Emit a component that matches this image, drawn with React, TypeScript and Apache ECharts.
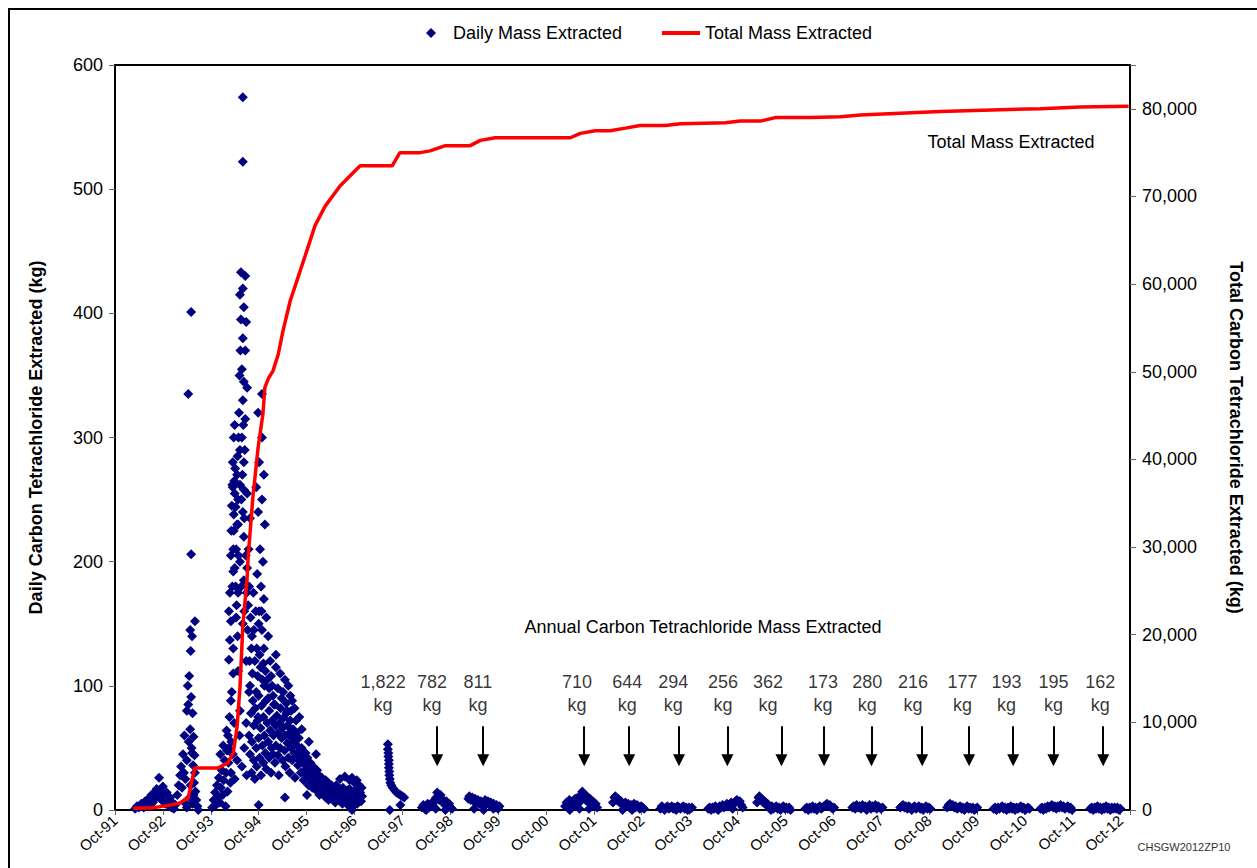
import { useEffect, useRef } from 'react';
import * as echarts from 'echarts';

// x values are years elapsed since October 1991
const xTickLabels = ['Oct-91','Oct-92','Oct-93','Oct-94','Oct-95','Oct-96','Oct-97','Oct-98','Oct-99','Oct-00','Oct-01','Oct-02','Oct-03','Oct-04','Oct-05','Oct-06','Oct-07','Oct-08','Oct-09','Oct-10','Oct-11','Oct-12'];

const totalMass: number[][] = [
  [0.38,200],[0.79,250],[1.09,500],[1.36,800],[1.53,1400],[1.61,3500],[1.67,4800],[2.15,4800],[2.36,5400],[2.47,6500],
  [2.55,9500],[2.61,14000],[2.67,21000],[2.76,26500],[2.78,28800],[2.88,35700],[2.99,41400],[3.09,45200],[3.13,48200],
  [3.2,49200],[3.3,50100],[3.41,52000],[3.51,54700],[3.66,58100],[3.8,60400],[3.97,63200],[4.18,66700],[4.39,68900],
  [4.7,71200],[5.01,72900],[5.12,73500],[5.79,73500],[5.95,75000],[6.37,75000],[6.58,75200],[6.9,75800],[7.42,75800],
  [7.63,76400],[7.94,76700],[9.51,76700],[9.72,77200],[10.03,77500],[10.34,77500],[10.66,77800],[10.97,78100],[11.49,78100],
  [11.81,78300],[12.75,78400],[13.06,78600],[13.48,78600],[13.79,79000],[14.52,79000],[15.15,79100],[15.57,79300],
  [16.4,79500],[17.24,79700],[18.49,79900],[19.33,80000],[20.16,80200],[21.17,80300]
];

const daily1993: number[][] = [
  [0.42,1],[0.46,3],[0.5,2],[0.55,5],[0.6,2],[0.63,7],[0.67,4],[0.7,9],[0.73,3],[0.76,12],[0.79,6],[0.82,14],[0.84,9],
  [0.87,17],[0.9,11],[0.92,26],[0.94,15],[0.97,8],[1.0,19],[1.02,12],[1.05,5],[1.08,14],[1.1,7],[1.13,3],[1.15,10],
  [1.18,2],[1.2,6],[1.23,1],[1.26,4],[1.3,12],[1.33,20],[1.36,28],[1.38,35],[1.4,18],[1.42,45],[1.44,30],[1.45,60],
  [1.47,25],[1.53,335],[1.5,40],[1.5,80],[1.52,100],[1.53,85],[1.59,401],[1.54,55],[1.55,108],[1.57,145],[1.59,206],
  [1.61,140],[1.57,65],[1.58,128],[1.59,91],[1.6,50],[1.67,152],[1.61,46],[1.62,78],[1.63,36],[1.64,59],[1.65,22],
  [1.66,44],[1.67,30],[1.68,15],[1.7,8],[1.72,3],[1.74,0],[1.56,10],[1.62,5],[1.5,2],[1.45,6],[1.58,20],[1.64,12]
];

const daily1994: number[][] = [
  [2.03,2],[2.06,8],[2.09,14],[2.11,4],[2.13,20],[2.15,10],[2.17,26],[2.19,6],[2.21,18],[2.23,32],[2.25,12],[2.27,24],
  [2.29,40],[2.31,3],[2.32,30],[2.34,48],[2.35,15],[2.36,60],[2.37,38],[2.38,121],[2.39,75],[2.4,137],[2.41,22],[2.42,152],
  [2.43,55],[2.44,95],[2.45,180],[2.46,260],[2.47,192],[2.47,110],[2.48,238],[2.49,70],
  [2.2,45],[2.26,52],[2.33,64],[2.38,50],[2.42,30],[2.46,45],[2.5,25],[2.55,40],[2.6,60],[2.65,35],[2.7,50],[2.75,28],
  [2.67,574],[2.67,522],[2.63,433],[2.72,430],[2.67,420],[2.61,415],[2.69,405],[2.63,395],[2.74,393],[2.67,380],[2.72,370],
  [2.65,355],[2.69,345],[2.76,340],[2.67,330],[2.72,315],[2.65,300],[2.61,290],[2.69,280],[2.49,265],[2.61,262],[2.69,258],
  [2.76,255],[2.57,250],[2.67,240],[2.82,235],[2.57,230],[2.69,220],[2.47,210],[2.61,200],[2.76,195],[2.69,185],[2.57,175],
  [2.78,165],[2.53,155],[2.67,150],[2.86,140],[2.47,130],[2.74,120],[2.57,112],[2.82,100],[2.95,95],[2.42,88],[2.61,80],
  [2.99,75],[2.74,70],[2.45,262],[2.5,255],[2.52,244],[2.48,225],[2.53,210],[2.5,195],[2.55,270],[2.58,300],[2.56,285],
  [2.38,160],[2.4,175],[2.42,205],[2.43,225],[2.44,245],[2.46,280],[2.48,300],[2.5,310],[2.51,275],[2.52,180],[2.54,165],
  [2.55,230],[2.56,140],[2.58,205],[2.59,320],[2.6,350],[2.62,370],[2.64,250],[2.64,180],[2.66,270],[2.68,310],[2.7,235],
  [2.7,160],[2.71,290],[2.73,205],[2.75,175],[2.77,145],[2.79,210],[2.8,180],[2.81,120],[2.83,155],[2.85,130],[2.87,110],
  [2.89,175],[2.9,145],[2.92,120],[2.94,160],[2.96,130],[2.98,108],[3.0,150],[3.02,125],[3.04,115],[3.06,160],[3.08,105],
  [3.1,118],[3.12,100],[3.14,112],[3.18,105],[3.22,98],[3.26,108],[3.3,92],[3.4,98],[3.48,90],[3.58,86],[3.68,80],
  [3.78,72],[3.9,65],[4.05,55],[4.2,45],
  [3.07,335],[2.99,320],[3.07,300],[3.01,280],[3.11,270],[2.95,260],[3.07,250],[2.99,240],[3.13,230],[3.03,210],[3.09,200],
  [2.97,190],[3.05,180],[3.11,170],[3.01,160],[3.16,155],[3.07,145],[3.2,140],[3.11,130],
  [3.24,120],[3.36,125],[3.36,115],[3.45,110],[3.28,100],[3.51,95],[3.2,90],[3.34,85],[3.59,80],[3.7,88],[3.75,82],
  [3.66,92],[3.85,75],[3.62,100],[3.55,105]
];

const daily1995: number[][] = [
  [2.8,95],[2.8,60],[2.82,45],[2.84,78],[2.85,30],[2.86,55],[2.88,88],[2.9,40],[2.9,68],[2.92,25],[2.93,82],[2.95,50],
  [2.96,35],[2.98,72],[3.0,58],[3.0,92],[3.02,42],[3.04,66],[3.05,28],[3.06,84],[3.08,52],[3.1,38],[3.1,75],[3.12,60],
  [3.14,46],[3.15,88],[3.16,33],[3.18,70],[3.2,55],[3.22,42],[3.22,80],[3.24,64],[3.26,30],[3.27,50],[3.28,72],[3.3,45],
  [3.31,60],[3.32,85],[3.34,38],[3.35,68],[3.36,52],[3.38,76],[3.4,44],[3.4,62],[3.42,28],[3.44,70],[3.45,50],[3.46,82],
  [3.48,58],[3.5,40],[3.5,66],[3.52,74],[3.54,48],[3.55,60],[3.56,35],[3.58,78],[3.6,54],[3.6,68],[3.62,42],[3.64,62],
  [3.65,30],[3.66,72],[3.68,50],[3.7,58],[3.7,40],[3.72,65],[3.74,46],[3.75,55],[3.76,26],[3.78,62],[3.8,44],[3.8,52],
  [3.82,36],[3.84,58],[3.85,40],[3.86,48],[3.88,30],[3.9,50],[3.9,38],[3.92,44],[3.94,24],[3.95,40],[3.96,32],[3.98,46],
  [4.0,28],[4.0,36],[4.02,42],[4.04,20],[4.05,34],[4.06,30],[4.08,38],[4.1,25],[4.1,32],[4.12,18],[4.14,35],[4.15,28],
  [4.16,22],[4.18,30],[4.2,16],[4.2,26],[4.22,32],[4.24,20],[4.26,28],[4.27,12],[4.28,24],[4.3,18],[4.32,26],[4.33,14],
  [4.35,22],[4.36,16],[4.38,20],[4.4,10],[4.4,24],[4.42,18],[4.44,14],[4.45,22],[4.46,8],[4.48,18],[4.5,12],[4.52,20],
  [4.54,15],[4.55,10],[4.56,18],[4.58,13],[4.6,6],[4.6,16],[4.62,20],[4.64,11],[4.66,15],[4.68,8],[4.7,17],[4.72,12],
  [4.74,14],[4.75,5],[4.76,18],[4.78,10],[4.8,15],[4.82,8],[4.84,13],[4.85,16],[4.86,4],[4.88,12],[4.9,17],[4.92,9],
  [4.94,14],[4.95,6],[4.96,11],[4.98,15],[5.0,8],[5.02,13],[5.03,10],[5.05,16],[5.06,5],[5.08,12],[5.1,9],[5.12,14],
  [5.14,7],[5.16,11],[3.0,4],[4.01,12],[4.95,2],[3.55,10],[4.7,25],[4.8,27],[4.9,24],[5.0,22],[5.1,20],[5.15,18],
  [4.95,26],[5.05,24],[4.95,0]
];

const daily1997: number[][] = [
  [5.7,53],[5.7,49],[5.71,46],[5.71,43],[5.72,40],[5.72,37],[5.72,34],[5.73,31],[5.73,28],[5.74,25],[5.75,22],[5.77,20],
  [5.8,18],[5.84,16],[5.88,14],[5.92,13],[5.96,12],[6.0,11],[6.04,10],[5.74,0],[5.96,4]
];

const dailyLater: number[][] = [
  [6.41,2],[6.44,4],[6.47,1],[6.5,3],[6.53,5],[6.56,2],[6.59,4],[6.62,6],[6.65,3],[6.68,7],[6.71,10],[6.73,14],[6.75,11],
  [6.77,8],[6.8,12],[6.83,9],[6.86,6],[6.89,4],[6.92,7],[6.95,3],[6.98,5],[7.01,2],[7.04,1],[6.5,0],[6.7,1],[6.9,0],
  [7.38,9],[7.4,11],[7.43,8],[7.46,10],[7.49,7],[7.52,9],[7.55,6],[7.58,8],[7.61,5],[7.64,7],[7.67,4],[7.7,6],[7.73,8],
  [7.76,5],[7.79,7],[7.82,4],[7.85,6],[7.88,3],[7.91,5],[7.94,2],[7.97,4],[8.0,1],[8.03,3],[7.5,1],[7.7,0],[7.9,1],
  [9.4,3],[9.43,6],[9.46,2],[9.49,8],[9.52,4],[9.55,7],[9.58,3],[9.61,9],[9.64,5],[9.67,10],[9.7,6],[9.73,12],[9.76,15],
  [9.78,13],[9.8,10],[9.83,8],[9.86,11],[9.89,6],[9.92,9],[9.95,4],[9.98,7],[10.01,3],[10.04,5],[10.07,2],[9.5,0],[9.7,1],[9.9,1],
  [10.4,6],[10.43,10],[10.45,11],[10.48,8],[10.51,9],[10.54,6],[10.57,7],[10.6,5],[10.63,4],[10.66,6],[10.69,3],[10.72,5],
  [10.75,2],[10.78,4],[10.81,3],[10.84,5],[10.87,2],[10.9,4],[10.93,3],[10.96,1],[10.99,3],[11.02,2],[11.05,1],[10.6,0],[10.8,0],
  [11.39,1],[11.42,3],[11.45,2],[11.48,0],[11.51,2],[11.54,3],[11.57,1],[11.6,2],[11.63,3],[11.66,1],[11.69,2],[11.72,0],
  [11.75,3],[11.78,2],[11.81,1],[11.84,2],[11.87,3],[11.9,1],[11.93,2],[11.96,0],[11.99,2],[12.02,1],[12.05,2],
  [12.39,1],[12.42,2],[12.45,0],[12.48,2],[12.51,1],[12.54,3],[12.57,1],[12.6,2],[12.63,3],[12.66,2],[12.69,4],[12.72,2],
  [12.75,3],[12.78,5],[12.81,3],[12.84,4],[12.87,6],[12.9,4],[12.93,5],[12.96,7],[12.99,8],[13.02,6],[13.05,7],[13.08,4],
  [13.11,2],[12.6,0],[12.9,1],
  [13.41,6],[13.44,10],[13.46,11],[13.48,8],[13.51,9],[13.54,6],[13.57,7],[13.6,4],[13.63,5],[13.66,3],[13.69,2],[13.72,3],
  [13.75,1],[13.78,2],[13.81,3],[13.84,1],[13.87,2],[13.9,0],[13.93,2],[13.96,3],[13.99,1],[14.02,2],[14.05,1],[14.08,2],
  [14.11,0],[13.7,0],
  [14.42,1],[14.45,2],[14.48,0],[14.51,2],[14.54,1],[14.57,3],[14.6,1],[14.63,2],[14.66,0],[14.69,2],[14.72,3],[14.75,1],
  [14.78,2],[14.81,3],[14.84,4],[14.87,5],[14.9,3],[14.93,4],[14.96,2],[14.99,1],[15.02,2],
  [15.4,2],[15.43,3],[15.46,1],[15.49,4],[15.52,2],[15.55,3],[15.58,1],[15.61,4],[15.64,2],[15.67,3],[15.7,0],[15.73,2],
  [15.76,4],[15.79,1],[15.82,3],[15.85,2],[15.88,4],[15.91,1],[15.94,3],[15.97,2],[16.0,1],[16.03,2],
  [16.4,2],[16.43,3],[16.46,4],[16.49,2],[16.52,3],[16.55,1],[16.58,3],[16.61,2],[16.64,0],[16.67,2],[16.7,3],[16.73,1],
  [16.76,2],[16.79,3],[16.82,1],[16.85,2],[16.88,0],[16.91,2],[16.94,3],[16.97,1],[17.0,2],[17.03,1],
  [17.38,2],[17.41,4],[17.44,5],[17.47,3],[17.5,4],[17.53,2],[17.56,3],[17.59,1],[17.62,2],[17.65,3],[17.68,1],[17.71,2],
  [17.74,0],[17.77,2],[17.8,3],[17.83,1],[17.86,2],[17.89,1],[17.92,2],[17.95,0],[17.98,1],[18.01,2],
  [18.35,1],[18.38,2],[18.41,0],[18.44,2],[18.47,1],[18.5,2],[18.53,3],[18.56,1],[18.59,2],[18.62,0],[18.65,2],[18.68,1],
  [18.71,3],[18.74,1],[18.77,2],[18.8,0],[18.83,2],[18.86,1],[18.89,2],[18.92,3],[18.95,1],[18.98,2],[19.01,0],[19.04,1],
  [19.07,2],[19.1,1],
  [19.33,1],[19.36,2],[19.39,0],[19.42,2],[19.45,1],[19.48,3],[19.51,2],[19.54,3],[19.57,4],[19.6,2],[19.63,3],[19.66,1],
  [19.69,3],[19.72,2],[19.75,4],[19.78,2],[19.81,3],[19.84,1],[19.87,2],[19.9,3],[19.93,1],[19.96,2],[19.99,0],
  [20.37,1],[20.4,2],[20.43,0],[20.46,2],[20.49,1],[20.52,3],[20.55,1],[20.58,2],[20.61,0],[20.64,2],[20.67,1],[20.7,3],
  [20.73,1],[20.76,2],[20.79,0],[20.82,2],[20.85,1],[20.88,2],[20.91,1],[20.94,2],[20.97,0],[21.0,1]
];

const annualLabels = ['1,822','782','811','710','644','294','256','362','173','280','216','177','193','195','162'];
const annualLabelX = [5.6, 6.62, 7.58, 9.65, 10.7, 11.66, 12.7, 13.64, 14.79, 15.71, 16.67, 17.7, 18.62, 19.6, 20.58];
const arrowX = [6.73, 7.69, 9.8, 10.74, 11.78, 12.79, 13.92, 14.81, 15.8, 16.86, 17.84, 18.76, 19.6, 20.64];

const FONT = '"Liberation Sans", Arial, sans-serif';

export default function App() {
  const ref = useRef<HTMLDivElement>(null);
  useEffect(() => {
    document.body.style.margin = '0';
    if (!ref.current) return;
    const chart = echarts.init(ref.current, null, { renderer: 'svg' });
    const daily = [...daily1993, ...daily1994, ...daily1995, ...daily1997, ...dailyLater];
    chart.setOption({
      animation: false,
      backgroundColor: '#fff',
      textStyle: { fontFamily: FONT },
      legend: [
        {
          data: [{ name: 'Daily Mass Extracted', icon: 'diamond' }],
          left: 421, top: 19, itemWidth: 10, itemHeight: 10, selectedMode: false,
          textStyle: { fontSize: 18, color: '#000', fontFamily: FONT, padding: [0, 0, 0, 12] },
        },
        {
          data: [{ name: 'Total Mass Extracted', icon: 'rect' }],
          left: 657, top: 19, itemWidth: 38, itemHeight: 4, selectedMode: false,
          textStyle: { fontSize: 18, color: '#000', fontFamily: FONT },
        },
      ],
      grid: { left: 115, right: 127, top: 65, bottom: 58, show: true, borderColor: '#000', borderWidth: 2, backgroundColor: 'transparent' },
      xAxis: {
        type: 'value', min: 0, max: 21.2, interval: 1,
        axisLine: { show: true, onZero: false, lineStyle: { color: '#000', width: 2 } },
        axisTick: { show: true, length: 5, lineStyle: { color: '#666' } },
        splitLine: { show: false },
        axisLabel: {
          rotate: 42, fontSize: 15, color: '#000', margin: 8, fontFamily: FONT,
          formatter: (v: number) => (Math.abs(v - Math.round(v)) < 1e-6 ? xTickLabels[Math.round(v)] ?? '' : ''),
        },
      },
      yAxis: [
        {
          type: 'value', min: 0, max: 600, interval: 100, position: 'left',
          name: 'Daily Carbon Tetrachloride Extracted (kg)', nameLocation: 'middle', nameGap: 70,
          nameTextStyle: { fontSize: 18, fontWeight: 'bold', color: '#000', fontFamily: FONT },
          axisLine: { show: true, lineStyle: { color: '#000', width: 2 } },
          axisTick: { show: true, length: 6, lineStyle: { color: '#666' } },
          splitLine: { show: false },
          axisLabel: { fontSize: 18, color: '#000', margin: 12, fontFamily: FONT },
        },
        {
          type: 'value', min: 0, max: 85000, interval: 10000, position: 'right',
          name: 'Total Carbon Tetrachloride Extracted (kg)', nameLocation: 'middle', nameGap: 97, nameRotate: -90,
          nameTextStyle: { fontSize: 18, fontWeight: 'bold', color: '#000', fontFamily: FONT },
          axisLine: { show: true, lineStyle: { color: '#000', width: 2 } },
          axisTick: { show: true, length: 6, lineStyle: { color: '#666' } },
          splitLine: { show: false },
          axisLabel: {
            fontSize: 18, color: '#000', margin: 12, fontFamily: FONT,
            formatter: (v: number) => (v > 80000 ? '' : v.toLocaleString('en-US')),
          },
        },
      ],
      series: [
        {
          name: 'Daily Mass Extracted', type: 'scatter', symbol: 'diamond', symbolSize: 10,
          itemStyle: { color: '#000080', opacity: 1 }, data: daily, z: 2, silent: true,
        },
        {
          name: 'Total Mass Extracted', type: 'line', yAxisIndex: 1, data: totalMass, symbol: 'none',
          lineStyle: { color: '#ff0000', width: 3.5 }, itemStyle: { color: '#ff0000' }, z: 3, silent: true,
        },
        {
          name: 'annual', type: 'scatter', symbolSize: 1, itemStyle: { color: 'rgba(0,0,0,0)' }, silent: true, z: 4,
          data: annualLabelX.map((x, i) => ({ value: [x, 93.5], name: annualLabels[i] })),
          label: {
            show: true, position: 'inside', color: '#000', fontSize: 18, lineHeight: 23, fontFamily: FONT,
            formatter: (p: any) => p.name + '\nkg',
          },
          markLine: {
            silent: true, symbol: ['none', 'triangle'], symbolSize: [12, 12],
            label: { show: false }, lineStyle: { color: '#000', width: 2, type: 'solid' },
            emphasis: { disabled: true },
            data: arrowX.map((x) => [{ coord: [x, 67.4] }, { coord: [x, 40] }]),
          },
        },
      ],
      graphic: [
        { type: 'rect', shape: { x: 9, y: 9, width: 1300, height: 900 }, style: { fill: 'none', stroke: '#000', lineWidth: 2 }, silent: true },
        { type: 'text', x: 703, y: 627, style: { text: 'Annual Carbon Tetrachloride Mass Extracted', font: '18px ' + FONT, fill: '#000', align: 'center', verticalAlign: 'middle' } },
        { type: 'text', x: 1011, y: 142, style: { text: 'Total Mass Extracted', font: '18px ' + FONT, fill: '#000', align: 'center', verticalAlign: 'middle' } },
        { type: 'text', x: 1184, y: 847, style: { text: 'CHSGW2012ZP10', font: '11px ' + FONT, fill: '#333', align: 'center', verticalAlign: 'middle' } },
      ],
    });
    return () => chart.dispose();
  }, []);
  return <div ref={ref} style={{ width: 1257, height: 868 }} />;
}
